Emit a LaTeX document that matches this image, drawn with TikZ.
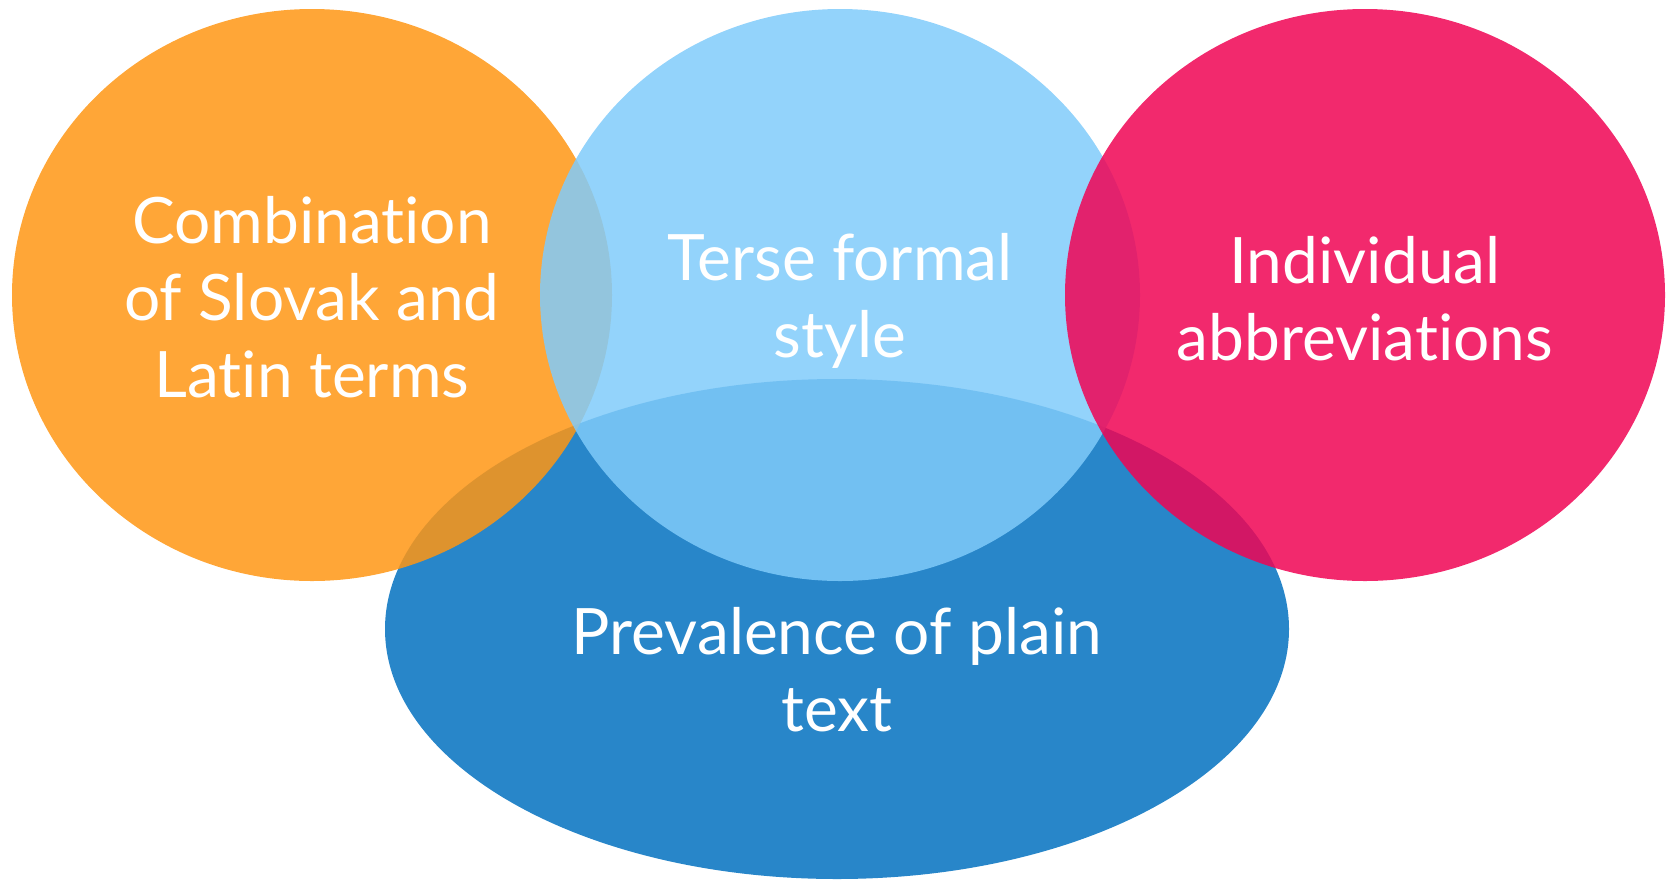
\documentclass[tikz,border=0pt]{standalone}
\usepackage{fontspec}
\setmainfont{Lato}[Ligatures={NoCommon,NoDiscretionary}]
\usetikzlibrary{shapes.geometric}

\definecolor{vennorange}{RGB}{255,150,20}
\definecolor{vennsky}{RGB}{128,203,250}
\definecolor{vennpink}{RGB}{240,4,84}
\definecolor{vennblue}{RGB}{40,134,201}

\begin{document}
\begin{tikzpicture}[x=1pt, y=-1pt,
    blob/.style={ellipse, draw=none, minimum width=600pt, minimum height=572pt, inner sep=0pt, fill opacity=0.85},
    blobtext/.style={text=white, align=center, font=\fontsize{64}{77}\selectfont}]
    \useasboundingbox (0,0) rectangle (1673,879);
    % the four sets
    \node[blob, fill=vennblue, fill opacity=1, minimum width=904pt, minimum height=500pt] (plain) at (837,629) {};
    \node[blob, fill=vennorange] (latin) at (312,295) {};
    \node[blob, fill=vennsky] (terse) at (840,295) {};
    \node[blob, fill=vennpink] (abbr) at (1365,295) {};
    % captions
    \node[blobtext] (latintext) at (312,297) {Combination\\of Slovak and\\Latin terms};
    \node[blobtext] (tersetext) at (840,301) {Terse formal\\style};
    \node[blobtext] (abbrtext) at (1365,299) {Individual\\abbreviations};
    \node[blobtext] (plaintext) at (837,670) {Prevalence of plain\\text};
\end{tikzpicture}
\end{document}
